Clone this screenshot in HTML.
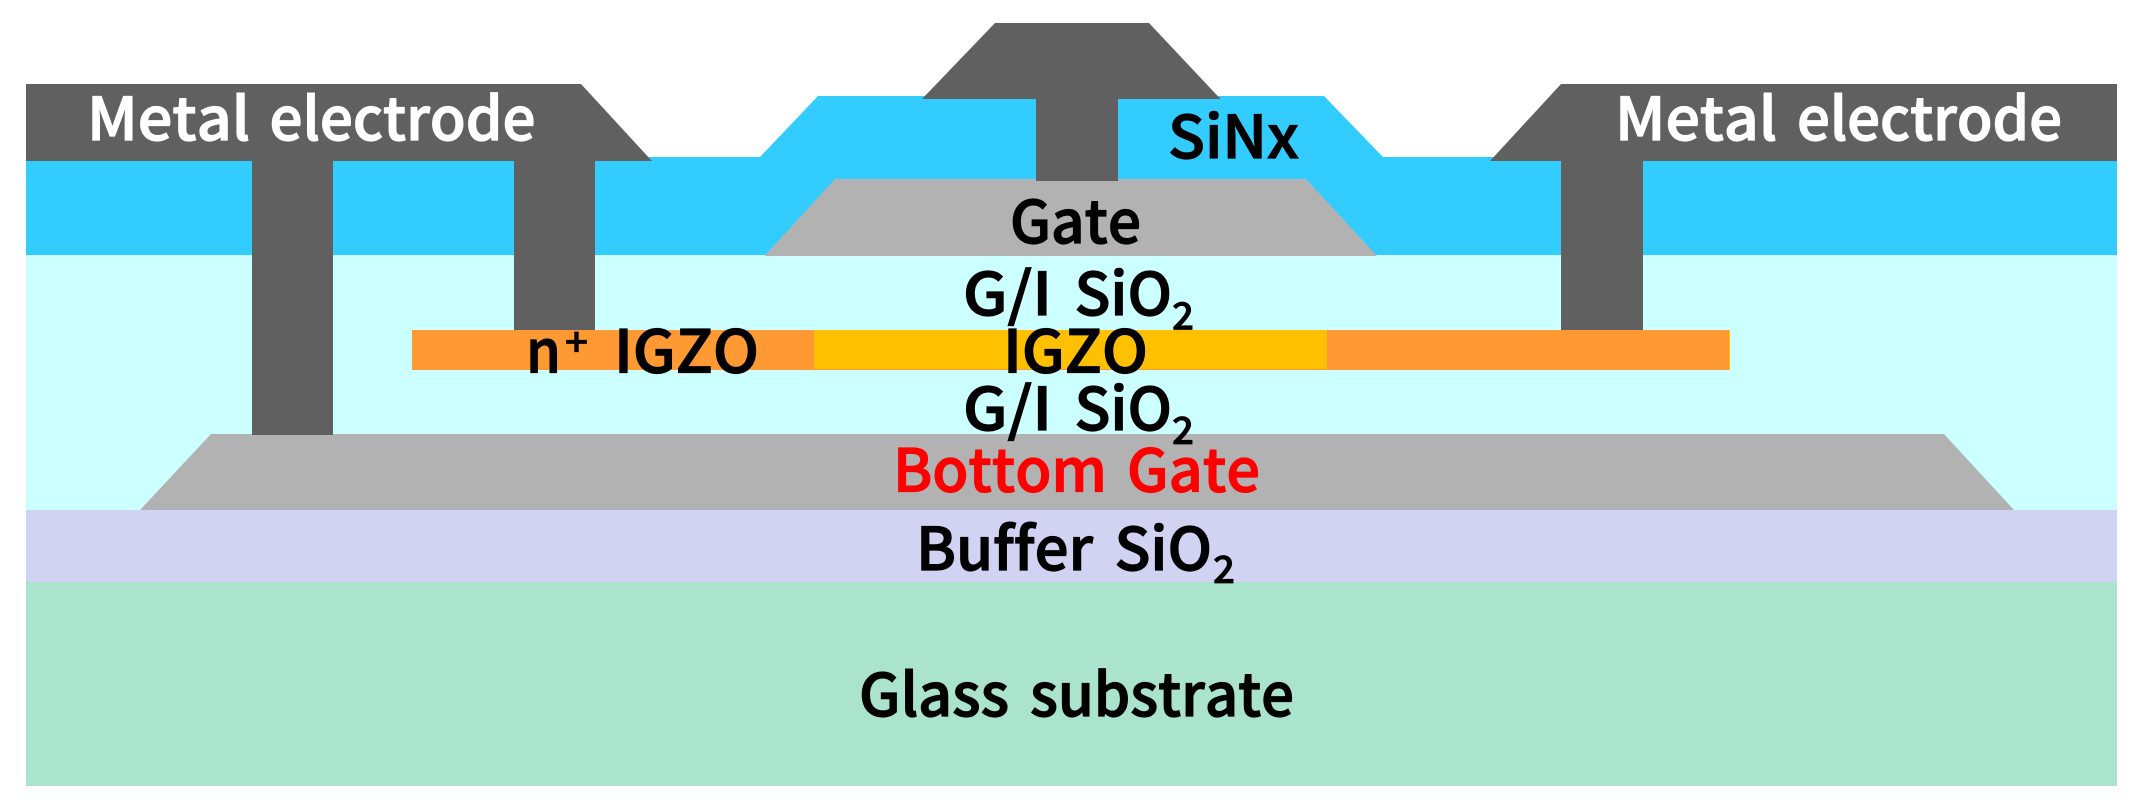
<!DOCTYPE html>
<html><head><meta charset="utf-8"><style>
html,body{margin:0;padding:0;background:#fff;width:2144px;height:811px;overflow:hidden}
svg{display:block}
text{font-family:"Noto Sans CJK KR","Liberation Sans",sans-serif;font-weight:500;font-size:59px;fill:#000;stroke:#000;stroke-width:1.2px;font-variant-ligatures:none;font-feature-settings:"liga" 0,"clig" 0,"kern" 0}
.s{font-size:38px;stroke-width:.8px}
.w{fill:#fff;stroke:#fff}
.r{fill:#f00;stroke:#f00}
</style></head><body>
<svg width="2144" height="811" viewBox="0 0 2144 811" xmlns="http://www.w3.org/2000/svg">
<rect width="2144" height="811" fill="#fff"/>
<rect x="26" y="582" width="2091" height="204" fill="#ABE4CC"/>
<rect x="26" y="510" width="2091" height="72" fill="#D2D2F3"/>
<rect x="26" y="255" width="2091" height="255" fill="#CCFFFF"/>
<polygon points="26,157 760,157 818,96 1324,96 1383,157 2117,157 2117,255 26,255" fill="#33CCFF"/>
<polygon points="835,179 1306,179 1377,256 764.5,256" fill="#B2B2B2"/>
<polygon points="211,434 1944,434 2014,510 140,510" fill="#B2B2B2"/>
<rect x="412" y="330" width="1318" height="40" fill="#FF9933"/>
<rect x="814" y="330" width="513" height="39" fill="#FFC000"/>
<rect x="1729" y="330" width="1" height="40" fill="#FFC000"/>
<polygon points="26,84 581,84 652,161 595,161 595,330 514,330 514,161 333,161 333,435 252,435 252,161 26,161" fill="#606060"/>
<polygon points="995,23 1149,23 1220.5,99 1118,99 1118,181 1036,181 1036,99 922,99" fill="#606060"/>
<polygon points="1561,84 2117,84 2117,161 1643,161 1643,330 1561,330 1561,161 1490,161" fill="#606060"/>

<text class="w" x="87" y="140" textLength="163" lengthAdjust="spacingAndGlyphs">Metal</text>
<text class="w" x="269.5" y="140" textLength="266" lengthAdjust="spacingAndGlyphs">electrode</text>
<text class="w" x="1615" y="140" textLength="162" lengthAdjust="spacingAndGlyphs">Metal</text>
<text class="w" x="1797" y="140" textLength="265" lengthAdjust="spacingAndGlyphs">electrode</text>
<text x="1168" y="158" textLength="131" lengthAdjust="spacingAndGlyphs">SiNx</text>
<text x="1010" y="243" textLength="131" lengthAdjust="spacingAndGlyphs">Gate</text>
<text x="963" y="315" textLength="89" lengthAdjust="spacingAndGlyphs">G/I</text>
<text x="1074.5" y="315" textLength="97.5" lengthAdjust="spacingAndGlyphs">SiO</text>
<text class="s" x="1172" y="329.5" textLength="22" lengthAdjust="spacingAndGlyphs">2</text>
<text x="526" y="372.5" textLength="35" lengthAdjust="spacingAndGlyphs">n</text>
<text class="s" x="565" y="356" textLength="23" lengthAdjust="spacingAndGlyphs">+</text>
<text x="614" y="372.5" textLength="145" lengthAdjust="spacingAndGlyphs">IGZO</text>
<text x="1003" y="372.5" textLength="145" lengthAdjust="spacingAndGlyphs">IGZO</text>
<text x="963" y="430" textLength="89" lengthAdjust="spacingAndGlyphs">G/I</text>
<text x="1074.5" y="430" textLength="97.5" lengthAdjust="spacingAndGlyphs">SiO</text>
<text class="s" x="1172" y="444" textLength="22" lengthAdjust="spacingAndGlyphs">2</text>
<text class="r" x="893" y="491.5" textLength="214" lengthAdjust="spacingAndGlyphs">Bottom</text>
<text class="r" x="1127" y="491.5" textLength="133" lengthAdjust="spacingAndGlyphs">Gate</text>
<text x="916" y="570" textLength="177" lengthAdjust="spacingAndGlyphs">Buffer</text>
<text x="1114.5" y="570" textLength="97.5" lengthAdjust="spacingAndGlyphs">SiO</text>
<text class="s" x="1213" y="583" textLength="22" lengthAdjust="spacingAndGlyphs">2</text>
<text x="859" y="716" textLength="150" lengthAdjust="spacingAndGlyphs">Glass</text>
<text x="1030" y="716" textLength="264" lengthAdjust="spacingAndGlyphs">substrate</text>
</svg>
</body></html>
